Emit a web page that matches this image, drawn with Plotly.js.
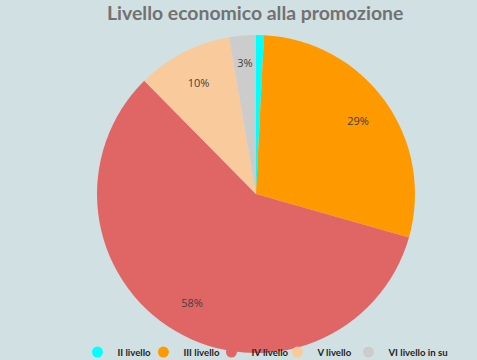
<!DOCTYPE html>
<html>
<head>
<meta charset="utf-8">
<script src="https://cdn.plot.ly/plotly-3.0.1.min.js"></script>
<style>html,body{margin:0;padding:0;background:#d0e0e3;}#chart{width:477px;height:360px;}</style>
</head>
<body>
<div id="chart"></div>
<script>
var categories = ['II livello', 'III livello', 'IV livello', 'V livello', 'VI livello in su'];
var values = [0.8, 28.6, 58.2, 9.7, 2.7];
var colors = ['#00ffff', '#ff9900', '#e06666', '#f9cb9c', '#cccccc'];
var labelTemplates = ['', '%{percent:.0%}', '%{percent:.0%}', '%{percent:.0%}', ''];
var smallLabelTemplates = ['', '', '', '', '%{percent:.0%}'];
var legendWidths = [21, 23, 21, 26, 80];

var pieDomain = {x: [0, 1], y: [0, 1]};
var innerDomain = {x: [0, 1], y: [0.05, 0.95]};
var transparent = categories.map(function () { return 'rgba(0,0,0,0)'; });
var labelFont = {family: 'Open Sans', size: 11, color: '#404040'};

function labelRing(templates, domain, hole) {
  return {
    type: 'pie',
    labels: categories,
    values: values,
    sort: false,
    direction: 'clockwise',
    rotation: 0,
    hole: hole,
    marker: {colors: transparent, line: {width: 0}},
    texttemplate: templates,
    textposition: 'inside',
    insidetextorientation: 'horizontal',
    textfont: labelFont,
    hoverinfo: 'skip',
    showlegend: false,
    domain: domain
  };
}

var traces = [{
  type: 'pie',
  labels: categories,
  values: values,
  sort: false,
  direction: 'clockwise',
  rotation: 0,
  marker: {colors: colors, line: {width: 0}},
  textinfo: 'none',
  hoverinfo: 'label+percent',
  showlegend: false,
  domain: pieDomain
}, labelRing(labelTemplates, pieDomain, 0.58), labelRing(smallLabelTemplates, innerDomain, 0.5)];

categories.forEach(function (c, i) {
  traces.push({
    type: 'scatter',
    mode: 'markers',
    x: [null], y: [null],
    name: c,
    legendwidth: legendWidths[i],
    marker: {color: colors[i], size: 11, symbol: 'circle'},
    showlegend: true,
    hoverinfo: 'skip'
  });
});

var layout = {
  width: 477,
  height: 360,
  paper_bgcolor: '#d0e0e3',
  plot_bgcolor: 'rgba(0,0,0,0)',
  margin: {l: 35, r: 0, t: 35, b: 7, autoexpand: false},
  title: {
    text: '<b>Livello economico alla promozione</b>',
    font: {family: 'Lato', size: 19.4, color: '#727272'},
    x: 0.535, xanchor: 'center', xref: 'container',
    y: 0.963, yanchor: 'middle', yref: 'container'
  },
  xaxis: {visible: false},
  yaxis: {visible: false},
  showlegend: true,
  legend: {
    orientation: 'h',
    x: 0.096, xanchor: 'left',
    y: 0.003, yanchor: 'middle',
    bgcolor: 'rgba(0,0,0,0)',
    entrywidth: 22, entrywidthmode: 'pixels',
    font: {family: 'Lato', size: 9.6, color: '#1f1f1f', weight: 'bold'},
    traceorder: 'normal'
  }
};

Plotly.newPlot('chart', traces, layout, {displayModeBar: false, staticPlot: true});
</script>
</body>
</html>
